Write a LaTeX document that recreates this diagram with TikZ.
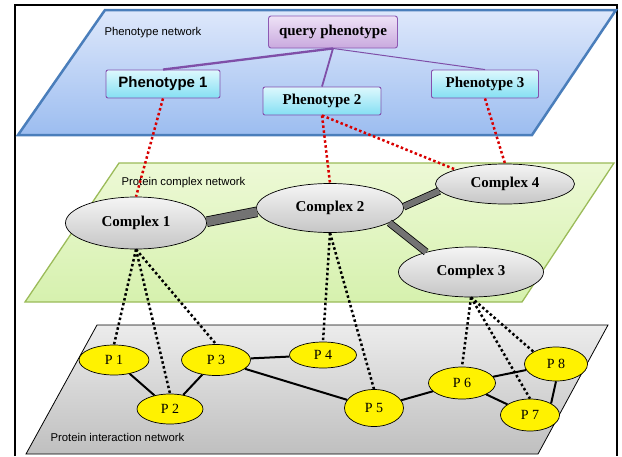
\documentclass[tikz,border=0pt]{standalone}
\usepackage{fontspec}
\setmainfont{Liberation Serif}
\setsansfont{Liberation Sans}
\usetikzlibrary{shapes.geometric}
\definecolor{planeblue}{HTML}{4A7EBB}
\definecolor{planegreen}{HTML}{9BBB59}
\definecolor{boxpurple}{HTML}{7030A0}
\definecolor{linkpurple}{HTML}{7F4FA8}
\definecolor{bluetop}{HTML}{DEE8FB}
\definecolor{bluebot}{HTML}{9CBDF0}
\definecolor{greentop}{HTML}{EDF9D6}
\definecolor{greenbot}{HTML}{D6F1AE}
\definecolor{cyantop}{HTML}{DDF8FD}
\definecolor{cyanbot}{HTML}{84DFF3}
\definecolor{lavtop}{HTML}{EEE2F6}
\definecolor{lavbot}{HTML}{C9A9DE}
\tikzset{
  layerlabel/.style={anchor=west, font=\sffamily\fontsize{11.3}{13}\selectfont},
  querybox/.style={draw=boxpurple!80, line width=0.9pt, rounded corners=2.5pt, inner sep=0pt,
    top color=lavtop, bottom color=lavbot, minimum width=129, minimum height=32,
    font=\bfseries\fontsize{15}{17}\selectfont},
  phenobox/.style={draw=boxpurple!85, line width=0.9pt, rounded corners=2pt, inner sep=0pt,
    top color=cyantop, bottom color=cyanbot, minimum height=28,
    font=\bfseries\fontsize{15}{17}\selectfont},
  cplx/.style={ellipse, draw, line width=0.7pt, inner sep=0pt, top color=gray!8,
    bottom color=gray!45, font=\bfseries\fontsize{15}{17}\selectfont},
  prot/.style={ellipse, draw, line width=0.7pt, inner sep=0pt, fill=yellow,
    font=\fontsize{14}{16}\selectfont},
  reddots/.style={red!85!black, line width=2.5pt, dash pattern=on 2.5pt off 2.5pt},
  blackdots/.style={black, line width=2.5pt, dash pattern=on 2.5pt off 2.5pt},
  plink/.style={black, line width=2pt},
  cbar/.style={draw=black, line width=0.8pt, double=black!55, double distance=#1},
}
\begin{document}
\begin{tikzpicture}[x=1pt,y=-1pt]
\useasboundingbox (0,0) rectangle (622,456);
\fill[white] (0,0) rectangle (622,456);
\draw[line width=1.3pt] (15,456) -- (15,5) -- (617,5) -- (617,456);

\draw[planeblue, line width=2.5pt, top color=bluetop, bottom color=bluebot]
  (105,10) -- (616,10) -- (532,135) -- (18,135) -- cycle;
\draw[planegreen, line width=1.3pt, top color=greentop, bottom color=greenbot]
  (119,163) -- (614,163) -- (522,302) -- (25,302) -- cycle;
\draw[black, line width=0.8pt, top color=gray!15, bottom color=gray!50]
  (97,325) -- (608,325) -- (538,454) -- (26,454) -- cycle;

\node[layerlabel] (lphen) at (101,33) {Phenotype network};
\node[layerlabel] (lcplx) at (118,183) {Protein complex network};
\node[layerlabel] (lprot) at (47,437) {Protein interaction network};

\node[querybox] (query) at (333,32) {query phenotype};
\node[phenobox, minimum width=114, font=\sffamily\bfseries\fontsize{15}{17}\selectfont] (ph1) at (163,84) {Phenotype 1};
\node[phenobox, minimum width=118] (ph2) at (322,101) {Phenotype 2};
\node[phenobox, minimum width=107] (ph3) at (485,84) {Phenotype 3};

\draw[linkpurple, line width=2.3pt] (query.south) -- (ph1.north);
\draw[linkpurple, line width=1.8pt] (query.south) -- (ph2.north);
\draw[linkpurple, line width=1pt] (query.south) -- (ph3.north);

\node[cplx, minimum width=141, minimum height=52] (c1) at (136,223) {Complex 1};
\node[cplx, minimum width=147, minimum height=49] (c2) at (330,208) {Complex 2};
\node[cplx, minimum width=145, minimum height=50] (c3) at (471,272) {Complex 3};
\node[cplx, minimum width=139, minimum height=40] (c4) at (505,184) {Complex 4};

\draw[cbar=9pt] (c1.1.5) -- (c2.183);
\draw[cbar=6pt] (c2.1.5) -- (c4.186);
\draw[cbar=6pt] (c2.-14.5) -- (c3.156);

\node[prot, minimum width=70, minimum height=30] (p1) at (114,360) {P 1};
\node[prot, minimum width=66, minimum height=30] (p2) at (170,409) {P 2};
\node[prot, minimum width=69, minimum height=31] (p3) at (216,360) {P 3};
\node[prot, minimum width=67, minimum height=26] (p4) at (323,355) {P 4};
\node[prot, minimum width=59, minimum height=37] (p5) at (374,408) {P 5};
\node[prot, minimum width=67, minimum height=32] (p6) at (462,383) {P 6};
\node[prot, minimum width=59, minimum height=32] (p7) at (530,415) {P 7};
\node[prot, minimum width=63, minimum height=34] (p8) at (556,364) {P 8};

\draw[plink] (p1) -- (p2);
\draw[plink] (p2) -- (p3);
\draw[plink] (p3) -- (p4);
\draw[plink] (p3) -- (p5);
\draw[plink] (p5) -- (p6);
\draw[plink] (p6) -- (p8);
\draw[plink] (p6) -- (p7);
\draw[plink] (p8.south) -- (p7.north east);

\draw[reddots] (ph1.south) -- (c1.north);
\draw[reddots] (ph2.south) -- (c2.north);
\draw[reddots] (ph2.south) -- (c4.north west);
\draw[reddots] (ph3.south) -- (c4.north);

\draw[blackdots] (c1.south) -- (p1.north);
\draw[blackdots] (c1.south) -- (p2.north);
\draw[blackdots] (c1.south) -- (p3.north);
\draw[blackdots] (c2.south) -- (p4.north);
\draw[blackdots] (c2.south) -- (p5.north);
\draw[blackdots] (c3.south) -- (p6.north);
\draw[blackdots] (c3.south) -- (p7.north);
\draw[blackdots] (c3.south) -- (p8.north west);
\end{tikzpicture}
\end{document}
